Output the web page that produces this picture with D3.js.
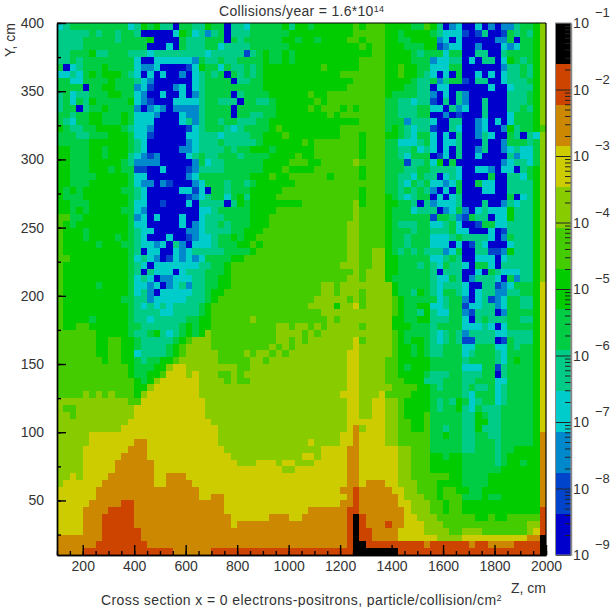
<!DOCTYPE html>
<html lang="en">
<head>
    <meta charset="UTF-8">
    <title>Cross section x = 0 electrons-positrons</title>
    <script src="https://d3js.org/d3.v7.min.js"></script>
    <style>
        body { margin: 0; background: white; }
        svg { display: block; }
        text { font-family: "Liberation Sans", sans-serif; font-size: 14px; fill: #333; }
    </style>
</head>
<body>
    <div id="chart"></div>

    <script>
        // Colour bands, one hex digit per cell: 0 = lowest band (blue), c = highest (black)
        // Cells are 25 cm wide and 5 cm high, rows run from Y = 400 down to Y = 10

        // Z = 100..1050
        const leftBands = [
            "34555555555346564405544655044355555646",
            "44444545545540000036534245044455555566",
            "44445555545555600005444555054555555665",
            "44445555555555000305444553444455555566",
            "44555644555444344444444344444145655656",
            "44545555555530033333325445445555655656",
            "50345556555532230000136553544545666666",
            "33435656665430303002034545054545666666",
            "55335555655543200000034555504455666666",
            "55550556655523100023034555555555666666",
            "45344555665532003003024555504555566666",
            "45354655555632100033334554440554456666",
            "45504556555520232022224555505555556666",
            "55455665556533320003224555505544556666",
            "54355665556533300003424554554445566666",
            "65445566665433200000134555434555567666",
            "55544555666533100000334443444455666766",
            "55555666666543000000234445444445666666",
            "66555665666543000002234444545566656666",
            "66555665666432120000345445554555566667",
            "66555666665422220000025344555555666677",
            "66555666565511003000124444555555666766",
            "66555566666533000000235555555566676677",
            "66555666666532202100023555455456666667",
            "65656666665543000003313055455566666777",
            "65556666666543000000123455356466667777",
            "66555666666533001000304444046566666666",
            "66565666665532000000003345555566667777",
            "77556666666523030003003444555566677777",
            "76566666666533000003023445455566677777",
            "76665666666543300000223444455666777777",
            "76665666656543000300123345565667777777",
            "76666656665543323042033345556676777777",
            "76666666666540330032344444555567777777",
            "77666666666534320132323555566777777777",
            "76666666666543033333334455677777777777",
            "76666666666540433303444555677777777777",
            "76666666666534302233344556677777777777",
            "76666656666533230234244556677777777777",
            "76666666666534203333344566777777777777",
            "76666666665544233333444567777777777777",
            "76666666666543434344445677777777777777",
            "76666666666544443344445677777777777777",
            "76666566666544344444556677777787777777",
            "76677666666554444445656677777777778878",
            "77777766666544564345656877777777778888",
            "77777766776654444456788877777777778878",
            "77777766776654444567888877777777787878",
            "77777766776634444567888887777878878788",
            "77777776776654556678888887777788788888",
            "77777777777655566899888888887788888888",
            "77777777777655667999898887787888888888",
            "77777777777765689999998888787788888888",
            "77777777777766899999998888888888888888",
            "77778787877768999999998888888888888888",
            "88888888888779999999999888888888888888",
            "87788888888899999999999888888888888888",
            "88788888888899999999999888888888888888",
            "88888888888999999999999988888888888888",
            "88888888889999999999999998888888888888",
            "88888999999999999999999998888888888888",
            "888889999999aa999999999998888888888888",
            "88889999999aaa999999999999888888888888",
            "8888999999aaaa999999999999988888888888",
            "888899999aaaaaa99999999999998889998998",
            "888899999aaaaaa99999999999999999999889",
            "88989999aaaaaaa99aaa999999999999999999",
            "8999999aaaaaaaa99aaaa99999999999999999",
            "999999aaaaaaaaaaaaaaaa9999999999999999",
            "999999aaaaaaaaaaaaaaaa99aa999999999999",
            "99999aaaaabbaaaaaaaaaaaaaa999999999999",
            "9999aaaabbbbaaaaaaaaaaaaaa999999999999",
            "9999aaabbbbbaaaaaaaaaaaaaaa999999aaa99",
            "9999aaabbbbbaaaaaaaaaaaaaaa9aaaaaaaaaa",
            "9999aaabbbbbbaaaaaaaaaaaaaaaaaaaaaaaaa",
            "aaaaaaabbbbbbaaaaaaaaaaaaaaaaaaaaaaaaa",
            "aaaaaabbbbbbbbaaaaaaaaaaaaaaaaaaaaaaaa",
            "aaaabbbbbbbbbbbbbbaaaaaabbbbbbbbbbbbbb"
        ];

        // Z = 1050..2000
        const rightBands = [
            "65666666767776666557640230030202245568",
            "66666666777776656666543331014001545468",
            "66566667767776655666623030000022505568",
            "66666666676776665556612330020003235568",
            "66666666666776666545553550044004555568",
            "66666666677776666555233440304403654568",
            "66676666677776676655333550000002445468",
            "66666677777776676654303050030303445468",
            "66666666777776666544524551044003444568",
            "66666667777776665544033000000300344468",
            "67667777777776555544203042000000444568",
            "66767777777775544344104042004000444568",
            "67677767677775544455330423004000445468",
            "66667677777775544455002010004000355568",
            "66666666677775552444300440023030355568",
            "66666677777775654344100430023002645567",
            "66666677767776654355303040024300540438",
            "76777777767775533345303340004002555458",
            "66777777767775544534303040024002343358",
            "66777777767775543555013040030000423358",
            "76677777877775551445360500000002344358",
            "66777777767775554455444430033203304568",
            "77776777767775544354403430000500443568",
            "77777777777775543545332350053300444468",
            "77777777767775545454203050003300444468",
            "77777777767776543455030340000000503468",
            "77777777867776655404233340004002434468",
            "77777777877776555344402352034333644468",
            "77777777877776555555155421544033644468",
            "77777778877776544455334530015533444468",
            "77777778877776555455444533000301444468",
            "77777778877776554555333454444302544468",
            "77777778877776554555333030143000344468",
            "77777778877886545454442350044112644468",
            "77777778877886655555334540033303444468",
            "77777788877886655545435443055304444468",
            "77777777878886655555404440030543334468",
            "77777778878886555555433540244430524468",
            "77788788888888655555434443004412355569",
            "77788788878888655465435543034422445569",
            "77888887878888765555534552034123554469",
            "78888688978888765566334551334423554469",
            "77788888888888765546433552144402555569",
            "77778788888888665566444553045444554469",
            "87878888878888666555455553334303555569",
            "78788888888888765555434542444433444469",
            "78888888978888765665434541144401544469",
            "88888888988888766565445553355533545569",
            "88888889988888766565445553455543555569",
            "88888889988887766666555554555543565569",
            "88888889988887765666555553335514555569",
            "88888889988887766665444554445504555569",
            "88888889988887776664445554455533555569",
            "88888889988888777766545554544534555569",
            "88888899988897777666555554355534555569",
            "88888889988998876666545465345534555569",
            "88888889988998876666545564354445555569",
            "88888889988998876667555554465445555569",
            "88888889999998877667555554466445555569",
            "88888889a89998877667554554464445555569",
            "88888899a9999887777755655445544555556a",
            "89888899a9999887777755555445554555556a",
            "8889999aa9999998877755555445554556666a",
            "9989999aa9999998877766566555554566666a",
            "8899999aa9999998877766666555554566566a",
            "9999999aa9999998877766666555555666666a",
            "9999999aa9999998877777766555566666666a",
            "9999999aa9aaa998887776666555566666666a",
            "999999aabaaaaa99887776776655666666666a",
            "9999999abaaaaaa9888776777555655666666a",
            "999999aabaaaaaa9988877677666666666666a",
            "9aaaaaabbaaaaaaa988877677666666666666b",
            "aaaaaaabcbaaaaaa998887777776676677777b",
            "aaaaaaabcbaaabaa999888777777777777788b",
            "aaaaaaabcbbaaaa9999888877888777777789b",
            "aaaaaaabcbbaaaa99999988889999999999aac",
            "aaaaaaabccbbbbbbbbbabbbbbbabbaaaabbbbc",
            "bbbbbbbbcccccccbbbbbbbbbbbbbbbbbbbbbbc"
        ];

        // Palette from blue to black, the bar runs over 13 equal bands
        const palette = ["#0000cc", "#0044cc", "#0088cc", "#00cccc", "#00cc88", "#00cc44", "#00cc00",
                         "#44cc00", "#88cc00", "#cccc00", "#cc8800", "#cc4400", "#000000"];

        const zTicks = d3.range(200, 2001, 200);
        const zMinor = d3.range(100, 2001, 50);
        const yTicks = d3.range(50, 401, 50);
        const yMinor = d3.range(25, 401, 25);
        const barExponents = [-1, -2, -3, -4, -5, -6, -7, -8, -9];

        const cellZ = 25, cellY = 5, colsPerSide = 38;
        const logMin = -9, logMax = -1;

        const svg = d3.select("#chart")
            .append("svg")
            .attr("width", 610)
            .attr("height", 607);

        const z = d3.scaleLinear().domain([100, 2000]).range([57, 546]);
        const y = d3.scaleLinear().domain([10, 400]).range([555, 23]);
        const color = d3.scaleQuantize().domain([logMin, logMax]).range(palette);
        const barY = d3.scaleLog().domain([1e-9, 1e-1]).range([555, 23]);

        // Turn the band digits into log10 values in the middle of each band
        const bandWidth = (logMax - logMin) / palette.length;
        const toLog = c => logMin + (parseInt(c, 16) + 0.5) * bandWidth;

        const cells = [];
        leftBands.forEach((left, row) => {
            const l = left.slice(0, colsPerSide).padEnd(colsPerSide, left[left.length - 1]);
            const rightRow = rightBands[row];
            const r = rightRow.slice(0, colsPerSide).padEnd(colsPerSide, rightRow[rightRow.length - 1]);
            (l + r).split("").forEach((c, col) => {
                cells.push({ z0: 100 + col * cellZ, y1: 400 - row * cellY, log: toLog(c) });
            });
        });

        svg.append("g")
            .attr("shape-rendering", "crispEdges")
            .selectAll("rect")
            .data(cells)
            .enter()
            .append("rect")
            .attr("x", d => Math.round(z(d.z0)))
            .attr("y", d => Math.round(y(d.y1)))
            .attr("width", d => Math.round(z(d.z0 + cellZ)) - Math.round(z(d.z0)))
            .attr("height", d => Math.round(y(d.y1 - cellY)) - Math.round(y(d.y1)))
            .attr("fill", d => color(d.log));

        // Frame and inward ticks
        const line = g => g.selectAll("path, line").attr("stroke", "#000").attr("stroke-width", 1.4);

        svg.append("g").attr("transform", "translate(0,555)")
            .call(d3.axisBottom(z).tickValues(zMinor).tickSize(-4).tickSizeOuter(0).tickFormat(""))
            .call(line);
        svg.append("g").attr("transform", "translate(57,0)")
            .call(d3.axisLeft(y).tickValues(yMinor).tickSize(-4).tickSizeOuter(0).tickFormat(""))
            .call(line);

        const xAxis = svg.append("g").attr("transform", "translate(0,555)")
            .call(d3.axisBottom(z).tickValues(zTicks).tickSize(-10).tickSizeOuter(0).tickFormat(d3.format("d")))
            .call(line);
        const yAxis = svg.append("g").attr("transform", "translate(57,0)")
            .call(d3.axisLeft(y).tickValues(yTicks).tickSize(-9).tickSizeOuter(0).tickPadding(13).tickFormat(d3.format("d")))
            .call(line);

        [xAxis, yAxis].forEach(a => a.selectAll("text")
            .style("font-family", '"Liberation Sans", sans-serif')
            .style("font-size", "14px")
            .attr("fill", "#333"));
        xAxis.selectAll("text").attr("y", 6);

        svg.append("line").attr("x1", 57).attr("x2", 546).attr("y1", 23).attr("y2", 23)
            .attr("stroke", "#000").attr("stroke-width", 1.2);
        svg.append("line").attr("x1", 546).attr("x2", 546).attr("y1", 23).attr("y2", 555)
            .attr("stroke", "#000").attr("stroke-width", 1.2);

        // Colour bar
        const bar = svg.append("g");
        bar.append("g")
            .attr("shape-rendering", "crispEdges")
            .selectAll("rect")
            .data(palette)
            .enter()
            .append("rect")
            .attr("x", 556)
            .attr("width", 15)
            .attr("y", (d, i) => Math.round(barY(Math.pow(10, logMin + (i + 1) * bandWidth))))
            .attr("height", (d, i) => Math.round(barY(Math.pow(10, logMin + i * bandWidth)))
                - Math.round(barY(Math.pow(10, logMin + (i + 1) * bandWidth))))
            .attr("fill", d => d);

        const barMinor = [];
        barExponents.slice(0, -1).forEach(e => {
            d3.range(2, 10).forEach(m => barMinor.push(m * Math.pow(10, e - 1)));
        });
        const barMajor = barExponents.map(e => Math.pow(10, e));

        bar.append("g").attr("transform", "translate(571,0)")
            .call(d3.axisLeft(barY).tickValues(barMinor).tickSize(6).tickSizeOuter(0).tickFormat(""))
            .call(g => g.selectAll("line").attr("stroke", "#222"))
            .call(g => g.selectAll("path").attr("stroke", "#888").attr("stroke-width", 1.5));
        bar.append("g").attr("transform", "translate(571,0)")
            .call(d3.axisLeft(barY).tickValues(barMajor).tickSize(15).tickSizeOuter(0).tickFormat(""))
            .call(g => g.selectAll("line").attr("stroke", "#222"))
            .call(g => g.select("path").remove());
        bar.append("rect").attr("x", 555.5).attr("y", 23).attr("width", 15.5).attr("height", 532)
            .attr("fill", "none").attr("stroke", "#888").attr("stroke-width", 1);

        const barLabels = bar.selectAll(".bar-label")
            .data(barExponents)
            .enter()
            .append("g")
            .attr("class", "bar-label")
            .attr("transform", d => `translate(573,${barY(Math.pow(10, d))})`);
        barLabels.append("text").attr("y", 5).style("letter-spacing", "0.4px").text("10");
        barLabels.append("text").attr("x", 22).attr("y", -6).style("font-size", "13px")
            .text(d => "\u2212" + Math.abs(d));

        // Titles
        const title = svg.append("text").attr("x", 219).attr("y", 16).style("letter-spacing", "0.3px");
        title.append("tspan").text("Collisions/year = 1.6*10");
        title.append("tspan").attr("dy", -4).style("font-size", "9px").text("14");

        svg.append("text").attr("x", 511).attr("y", 593).text("Z, cm");

        svg.append("text")
            .attr("transform", "translate(15,23) rotate(-90)")
            .attr("text-anchor", "end")
            .text("Y, cm");

        const caption = svg.append("text").attr("x", 101).attr("y", 605).style("letter-spacing", "0.4px");
        caption.append("tspan").text("Cross section x = 0 electrons-positrons, particle/collision/cm");
        caption.append("tspan").attr("dy", -4).style("font-size", "9px").text("2");
    </script>
</body>
</html>
